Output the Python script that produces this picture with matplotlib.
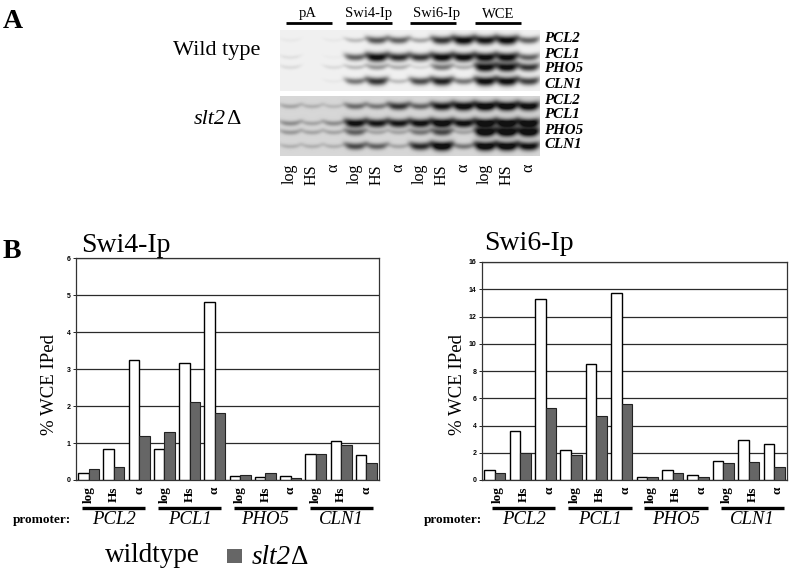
import numpy as np
import matplotlib
matplotlib.use("Agg")
import matplotlib.pyplot as plt
from matplotlib.patches import Rectangle

plt.rcParams['font.family'] = ['Liberation Serif', 'DejaVu Serif']

# ---------- data ----------
promoters = ['PCL2', 'PCL1', 'PHO5', 'CLN1']
conditions = ['log', 'Hs', 'α']
swi4_wt = [0.2, 0.85, 3.25, 0.85, 3.15, 4.8, 0.1, 0.08, 0.1, 0.7, 1.05, 0.67]
swi4_mut = [0.3, 0.35, 1.2, 1.3, 2.1, 1.8, 0.13, 0.18, 0.06, 0.7, 0.95, 0.47]
swi6_wt = [0.75, 3.6, 13.3, 2.2, 8.5, 13.75, 0.2, 0.75, 0.37, 1.4, 2.95, 2.65]
swi6_mut = [0.5, 2.0, 5.25, 1.85, 4.7, 5.6, 0.22, 0.5, 0.22, 1.25, 1.35, 0.92]
swi4_ticks = [0, 1, 2, 3, 4, 5, 6]
swi6_ticks = [0, 2, 4, 6, 8, 10, 12, 14, 16]

gel_groups = ['pA', 'Swi4-Ip', 'Swi6-Ip', 'WCE']
gel_lanes = ['log', 'HS', 'α']
gel_wt = [[.03, .0, .03, .2, .65, .6, .3, .8, 1, .95, 1, .6],
          [.06, .0, .02, .6, 1, .85, .8, 1, 1, 1, 1, .6],
          [.08, .0, .08, .2, .35, .25, .1, .5, .25, 1, 1, .8],
          [.0, .0, .03, .5, .8, .2, .7, .9, .5, 1, 1, .75]]
gel_mut = [[.2, .15, .12, .45, .4, .7, .5, .85, .95, 1, 1, .95],
           [.3, .2, .3, .9, .85, .85, .9, 1, .9, 1, 1, 1],
           [.25, .2, .2, .5, .2, .2, .4, .6, .2, 1, 1, 1],
           [.15, .15, .15, .6, .5, .2, .75, 1, .4, 1, 1, .9]]

W, H = 793, 574
fig = plt.figure(figsize=(W / 100, H / 100), dpi=100)
bg = fig.add_axes([0, 0, 1, 1])
bg.set_xlim(0, W)
bg.set_ylim(H, 0)
bg.axis('off')


def gel_image(matrix, background, width, height, band_rows):
    """Turn a lanes-by-genes intensity table into a blot picture."""
    yy, xx = np.mgrid[0:height, 0:width]
    dark = np.zeros((height, width))
    lane_x = 10 + np.arange(12) * 21.65
    for row, y0 in zip(matrix, band_rows):
        for val, x0 in zip(row, lane_x):
            if val <= 0:
                continue
            dx = (xx - x0) / 11.0
            sag = 2.0 * (1 - dx ** 2)
            sy = 2.0 + 2.6 * val
            dark += val * np.exp(-dx ** 4) * np.exp(-((yy - y0 - sag + 1) / sy) ** 2)
    return np.clip(background - 0.9 * dark, 0.07, 1)


gel_x0, gel_x1 = 280, 540
bg.imshow(gel_image(gel_wt, 0.94, 260, 61, [9, 26, 36, 50]), cmap='gray', vmin=0, vmax=1,
          extent=(gel_x0, gel_x1, 91, 30), aspect='auto', interpolation='bilinear')
bg.imshow(gel_image(gel_mut, 0.84, 260, 60, [9, 26, 35, 49]), cmap='gray', vmin=0, vmax=1,
          extent=(gel_x0, gel_x1, 156, 96), aspect='auto', interpolation='bilinear')
bg.set_xlim(0, W)
bg.set_ylim(H, 0)

# panel letters
bg.text(3, 22, 'A', fontsize=20, fontweight='bold', va='center')
bg.text(3, 252, 'B', fontsize=20, fontweight='bold', va='center')

# gel annotation
bg.text(217, 51, 'Wild type', fontsize=16, ha='center', va='center')
bg.text(194, 119, 'slt2', fontsize=16, style='italic', va='center')
bg.text(226, 119, 'Δ', fontsize=16, va='center')
for name, cx, x0, x1 in zip(gel_groups, [308, 369, 437, 498], [286, 346, 410, 475], [332, 392, 456, 521]):
    bg.text(cx, 14, name, fontsize=10.5, ha='center', va='center')
    bg.plot([x0, x1], [22.5, 22.5], color='black', lw=2, solid_capstyle='butt')
for y_list in ([39, 54, 69, 84], [100, 115, 130, 145]):
    for gene, y in zip(promoters, y_list):
        bg.text(544, y, gene, fontsize=10.8, fontweight='bold', style='italic', va='center')
for i in range(12):
    bg.text(290 + i * 21.65, 164, gel_lanes[i % 3], rotation=90, fontsize=11.5,
            ha='center', va='top')


def bar_panel(rect_px, wt, mut, ticks, title, title_x, title_y, ylab_x, promoter_x, shift):
    left, top, right, bottom = rect_px
    ax = fig.add_axes([left / W, 1 - bottom / H, (right - left) / W, (bottom - top) / H])
    ax.patch.set_alpha(0)
    x = np.arange(12)
    w = 0.415
    ax.bar(x - w / 2, wt, w, color='white', edgecolor='black', lw=1.0, zorder=3)
    ax.bar(x + w / 2, mut, w, color='#666666', edgecolor='#222222', lw=0.8, zorder=3)
    ax.set_xlim(-0.5, 11.5)
    ax.set_ylim(ticks[0], ticks[-1])
    ax.set_yticks(ticks)
    ax.set_yticklabels([str(t) for t in ticks], fontsize=5, fontweight='bold',
                       family=['Liberation Sans'])
    ax.tick_params(axis='y', length=2, width=0.6, pad=2)
    ax.grid(axis='y', color='#2a2a2a', lw=0.9, zorder=0)
    ax.set_axisbelow(True)
    for s in ax.spines.values():
        s.set_color('#333333')
        s.set_linewidth(0.9)
    ax.set_xticks([])
    # rotated condition labels
    for i in x:
        ax.annotate(conditions[i % 3], (i + shift, 0), xytext=(0, -4.5),
                    textcoords='offset points', rotation=90, ha='center', va='top',
                    fontsize=9.5, fontweight='bold', annotation_clip=False)
    # promoter groups
    trans = ax.get_xaxis_transform()
    for g, name in enumerate(promoters):
        c = 3 * g + 1 + shift
        ax.plot([c - 1.25, c + 1.25], [-28 / (bottom - top)] * 2, transform=trans, color='black',
                lw=2.4, solid_capstyle='butt', clip_on=False)
        ax.text(c, -39.5 / (bottom - top), name, transform=trans, fontsize=13.5, style='italic',
                ha='center', va='center', clip_on=False)
    bg.text(title_x, title_y, title, fontsize=20, va='center')
    bg.text(ylab_x, 385, '% WCE IPed', rotation=90, fontsize=13.5, ha='center', va='center')
    bg.text(promoter_x, 519.5, 'promoter:', fontsize=9.5, fontweight='bold', va='center')
    return ax


bar_panel((76, 258, 379, 480), swi4_wt, swi4_mut, swi4_ticks, 'Swi4-Ip', 81, 245, 50, 13, 0.0)
bar_panel((482, 262, 787, 480), swi6_wt, swi6_mut, swi6_ticks, 'Swi6-Ip', 484, 244, 457, 424, 0.14)

# legend
bg.text(105, 556, 'wildtype', fontsize=19.5, va='center')
bg.add_patch(Rectangle((227, 549), 15, 14, facecolor='#666666', edgecolor='none'))
bg.text(252, 557, 'slt2', fontsize=19.5, style='italic', va='center')
bg.text(291, 557, 'Δ', fontsize=19.5, va='center')

fig.savefig('out.png', dpi=100)
